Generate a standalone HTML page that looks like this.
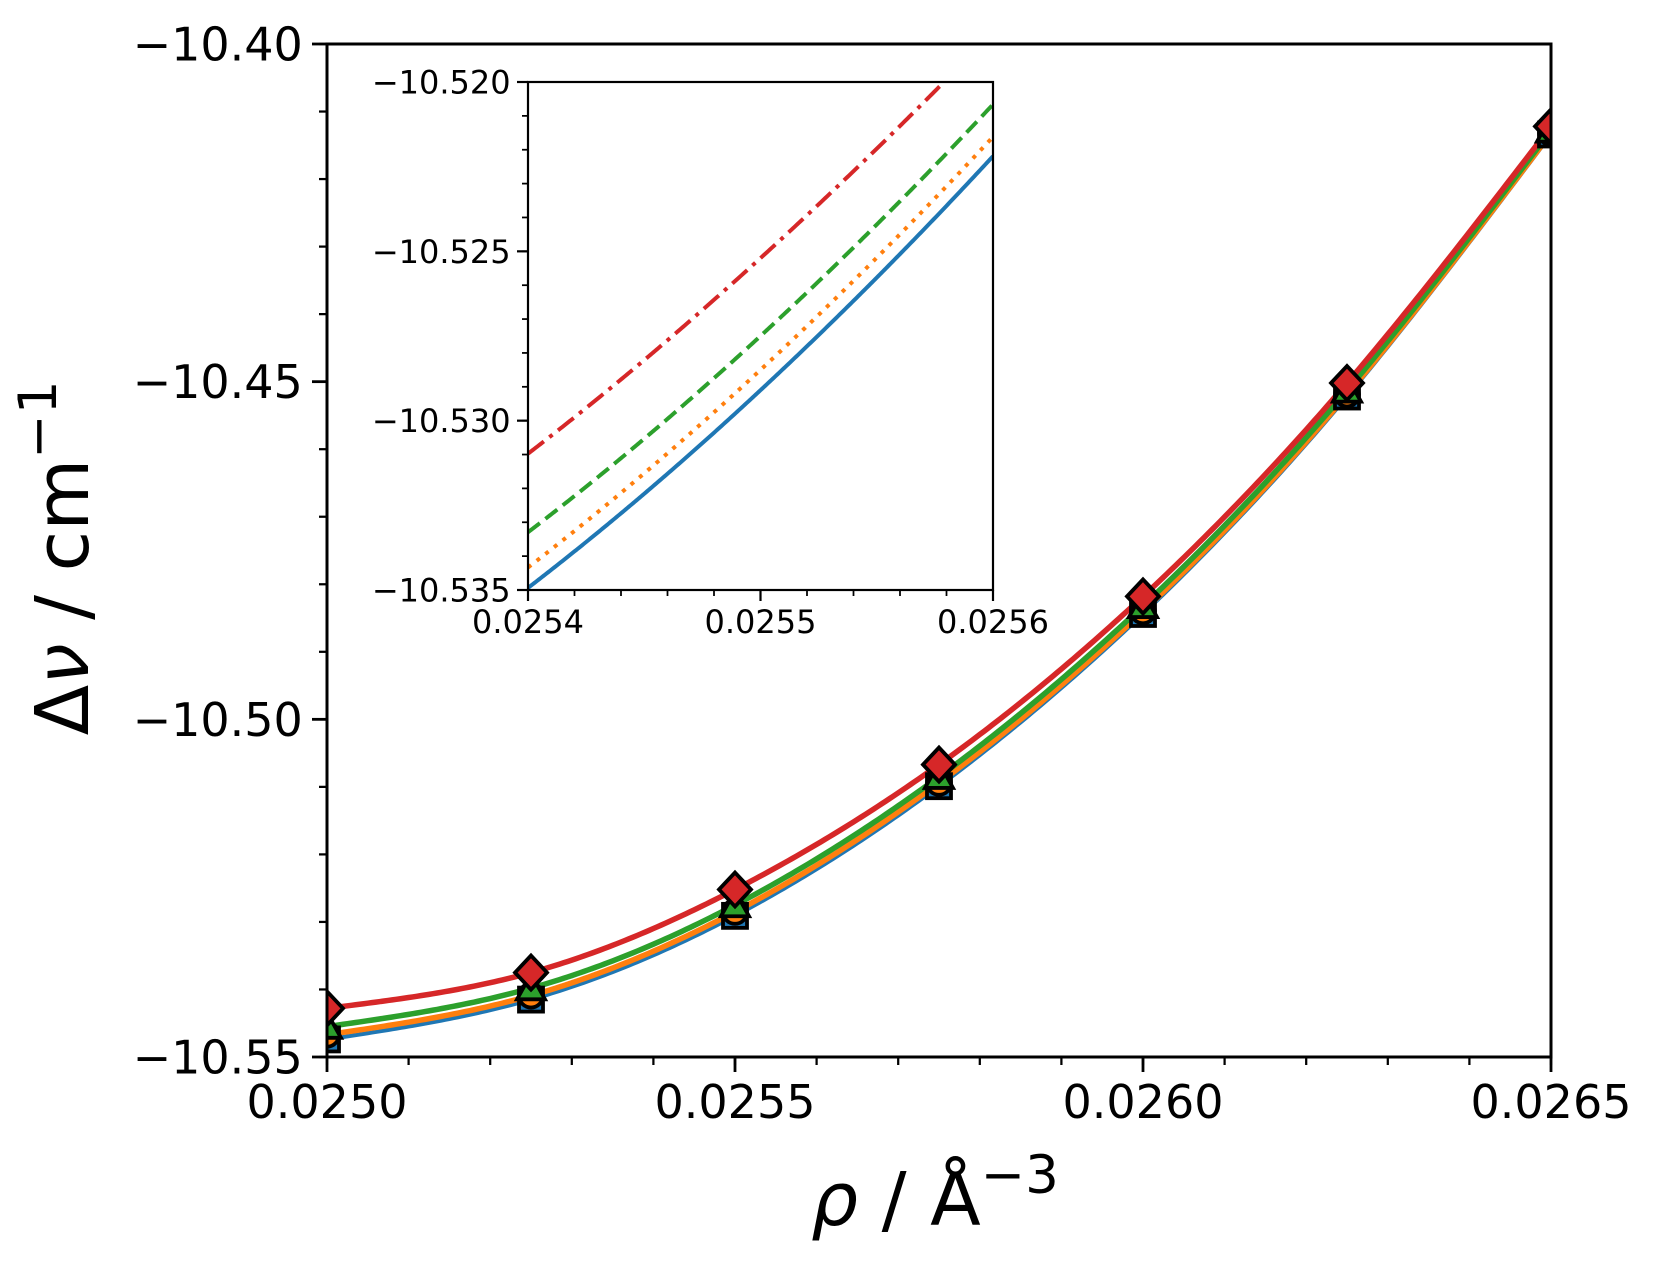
<!DOCTYPE html>
<html><head><meta charset="utf-8"><style>
body{margin:0;background:#fff}
svg{display:block}
text{font-family:"DejaVu Sans","Liberation Sans",sans-serif;fill:#000}
</style></head><body>
<svg id="chart" width="1661" height="1266" viewBox="0 0 1661 1266" xmlns="http://www.w3.org/2000/svg">
<defs>
<clipPath id="mainClip"><rect x="327" y="44" width="1224" height="1013"/></clipPath>
<clipPath id="insetClip"><rect x="528" y="82" width="465" height="508"/></clipPath>
</defs>
<g id="main"></g>
<g id="inset"></g>
<text transform="translate(88,558) rotate(-90)" text-anchor="middle" font-size="74">Δ<tspan font-style="italic">ν</tspan> / cm<tspan dy="-32" font-size="53">−1</tspan></text>
<text x="935" y="1225" text-anchor="middle" font-size="74"><tspan font-style="italic">ρ</tspan> / Å<tspan dy="-32" font-size="53">−3</tspan></text>
</svg>
<script>
const xCats = [0.02500, 0.02525, 0.02550, 0.02575, 0.02600, 0.02625, 0.02650];
const redVals = [-10.5428, -10.5375, -10.5252, -10.5067, -10.4818, -10.4502, -10.4122];
const greenVals = [-10.5455, -10.5398, -10.5275, -10.5085, -10.4832, -10.4513, -10.4128];
const orangeVals = [-10.5467, -10.5409, -10.5285, -10.5094, -10.4840, -10.4519, -10.4132];
const blueVals = [-10.5474, -10.5415, -10.5291, -10.5099, -10.4844, -10.4522, -10.4134];
const mainXTicks = ["0.0250", "0.0255", "0.0260", "0.0265"];
const mainYTicks = ["−10.40", "−10.45", "−10.50", "−10.55"];
const insetXTicks = ["0.0254", "0.0255", "0.0256"];
const insetYTicks = ["−10.520", "−10.525", "−10.530", "−10.535"];

const NS = "http://www.w3.org/2000/svg";
function mk(tag, attrs, parent){const e=document.createElementNS(NS,tag);for(const k in attrs)e.setAttribute(k,attrs[k]);parent.appendChild(e);return e;}
function num(s){return parseFloat(s.replace("−","-"));}

function spline(xs, ys){
  const n=xs.length, h=[], a=[], l=[1], mu=[0], z=[0], c=new Array(n).fill(0), b=[], d=[];
  for(let i=0;i<n-1;i++)h.push(xs[i+1]-xs[i]);
  for(let i=1;i<n-1;i++)a[i]=3/h[i]*(ys[i+1]-ys[i])-3/h[i-1]*(ys[i]-ys[i-1]);
  for(let i=1;i<n-1;i++){l[i]=2*(xs[i+1]-xs[i-1])-h[i-1]*mu[i-1];mu[i]=h[i]/l[i];z[i]=(a[i]-h[i-1]*z[i-1])/l[i];}
  l[n-1]=1;z[n-1]=0;
  for(let j=n-2;j>=0;j--){c[j]=z[j]-mu[j]*c[j+1];b[j]=(ys[j+1]-ys[j])/h[j]-h[j]*(c[j+1]+2*c[j])/3;d[j]=(c[j+1]-c[j])/(3*h[j]);}
  return function(x){let i=0;while(i<n-2&&x>xs[i+1])i++;const t=x-xs[i];return ys[i]+b[i]*t+c[i]*t*t+d[i]*t*t*t;};
}

const series=[
 {name:"blue",vals:blueVals,color:"#1f77b4",dash:"",marker:"square"},
 {name:"orange",vals:orangeVals,color:"#ff7f0e",dash:"dot",marker:"circle"},
 {name:"green",vals:greenVals,color:"#2ca02c",dash:"dash",marker:"triangle"},
 {name:"red",vals:redVals,color:"#d62728",dash:"dashdot",marker:"diamond"}
];
series.forEach(s=>s.f=spline(xCats,s.vals));

function drawAxes(g, box, xr, yr, xTicks, yTicks, xMinor, yMinor, fs, lw, tickLen, minorLen, prefix){
  const sx=v=>box.x+(v-xr[0])/(xr[1]-xr[0])*box.w;
  const sy=v=>box.y+box.h-(v-yr[0])/(yr[1]-yr[0])*box.h;
  for(let v=xr[0];v<=xr[1]+1e-12;v+=xMinor){const t=mk("line",{x1:sx(v),x2:sx(v),y1:box.y+box.h,y2:box.y+box.h+minorLen,stroke:"#000","stroke-width":lw*0.8},g);}
  for(let v=yr[0];v<=yr[1]+1e-12;v+=yMinor){const t=mk("line",{x1:box.x-minorLen,x2:box.x,y1:sy(v),y2:sy(v),stroke:"#000","stroke-width":lw*0.8},g);}
  xTicks.forEach(s=>{const v=num(s),x=sx(v);
    const t=mk("line",{x1:x,x2:x,y1:box.y+box.h,y2:box.y+box.h+tickLen,stroke:"#000","stroke-width":lw},g);
    
    const tx=mk("text",{x:x,y:box.y+box.h+tickLen+fs*1.0,"text-anchor":"middle","font-size":fs},g);tx.textContent=s;
    });
  yTicks.forEach(s=>{const v=num(s),y=sy(v);
    const t=mk("line",{x1:box.x-tickLen,x2:box.x,y1:y,y2:y,stroke:"#000","stroke-width":lw},g);
    
    const tx=mk("text",{x:box.x-tickLen-fs*0.2,y:y+fs*0.36,"text-anchor":"end","font-size":fs},g);tx.textContent=s;
    });
  return {sx,sy};
}

function curvePath(s, sx, sy, x0, x1){
  let d="";const N=300;
  for(let i=0;i<=N;i++){const x=x0+(x1-x0)*i/N;d+=(i?"L":"M")+sx(x).toFixed(2)+","+sy(s.f(x)).toFixed(2);}
  return d;
}

const gm=document.getElementById("main");
const mbox={x:327,y:44,w:1224,h:1013};
const M=drawAxes(gm,mbox,[0.025,0.0265],[-10.55,-10.40],mainXTicks,mainYTicks,0.0001,0.01,46,2.8,15,8,"main");
const mc=mk("g",{"clip-path":"url(#mainClip)"},gm);

series.forEach(s=>{const p=mk("path",{d:curvePath(s,M.sx,M.sy,0.025,0.0265),fill:"none",stroke:s.color,"stroke-width":s.name==="blue"?4:5.5},mc);
  });
series.forEach(s=>{xCats.forEach((xv,i)=>{const cx=M.sx(xv),cy=M.sy(s.vals[i]);let e;const r=14;
  const st={fill:s.color,stroke:"#000","stroke-width":3.8};
  if(s.marker==="square")e=mk("rect",Object.assign({x:cx-12,y:cy-12,width:24,height:24},st),mc);
  else if(s.marker==="circle")e=mk("circle",Object.assign({cx:cx,cy:cy,r:12},st),mc);
  else if(s.marker==="triangle")e=mk("polygon",Object.assign({points:`${cx},${cy-r} ${cx+r},${cy+r*0.8} ${cx-r},${cy+r*0.8}`},st),mc);
  else e=mk("polygon",Object.assign({points:`${cx},${cy-17} ${cx+16},${cy} ${cx},${cy+17} ${cx-16},${cy}`},st),mc);
  });});
const mf=mk("rect",{x:327,y:44,width:1224,height:1013,fill:"none",stroke:"#000","stroke-width":3},gm);


const gi=document.getElementById("inset");
const ibox={x:528,y:82,w:465,h:508};
const bg=mk("rect",{x:528,y:82,width:465,height:508,fill:"#fff"},gi);

const I=drawAxes(gi,ibox,[0.0254,0.0256],[-10.535,-10.520],insetXTicks,insetYTicks,0.00002,0.001,32,2.2,11,6,"inset");
const ic=mk("g",{"clip-path":"url(#insetClip)"},gi);

const dashes={"":"", "dot":"4,7", "dash":"15,7", "dashdot":"20,7,4,7"};
series.forEach(s=>{const p=mk("path",{d:curvePath(s,I.sx,I.sy,0.0254,0.0256),fill:"none",stroke:s.color,"stroke-width":4,"stroke-dasharray":dashes[s.dash]},ic);
  });
const ifr=mk("rect",{x:528,y:82,width:465,height:508,fill:"none",stroke:"#000","stroke-width":2.2},gi);

</script>
</body></html>
